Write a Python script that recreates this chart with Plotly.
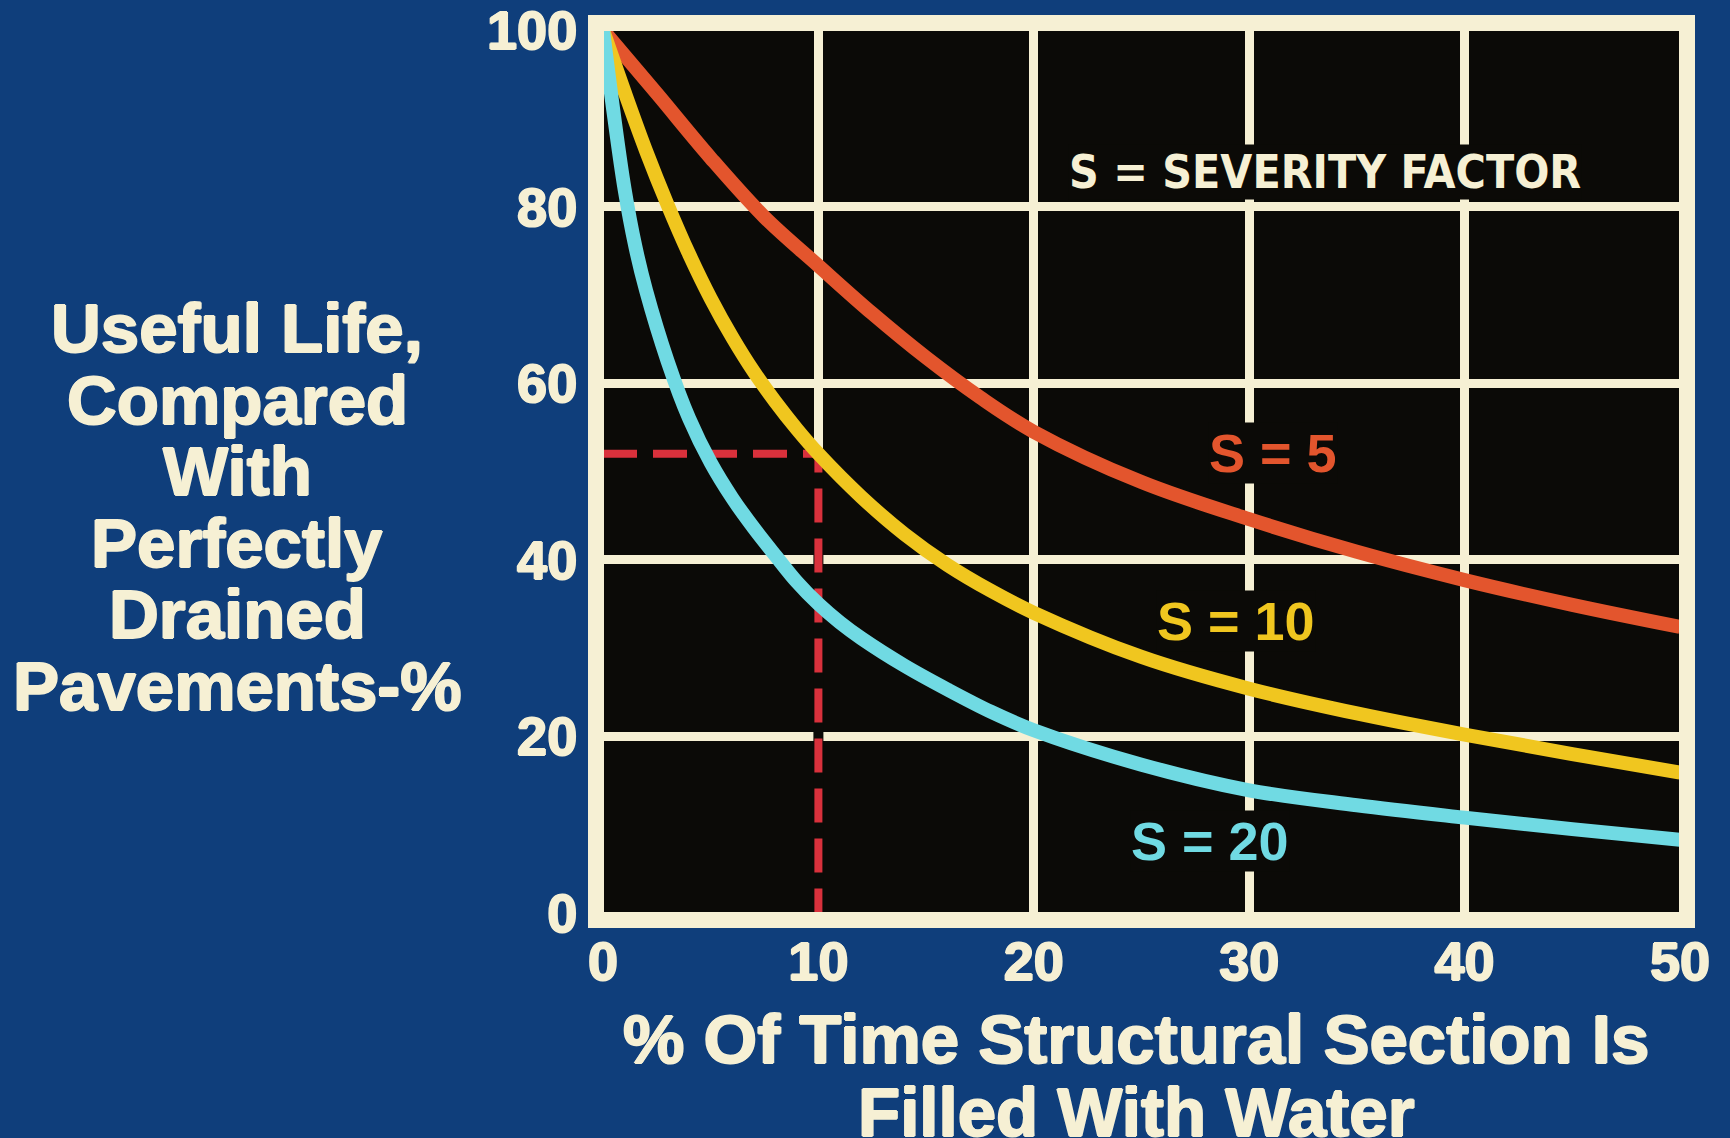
import plotly.graph_objects as go

# ---------------- data ----------------
x_ticks = [0, 10, 20, 30, 40, 50]
y_ticks = [0, 20, 40, 60, 80, 100]

s5_x = [0, 2.5, 5, 7.5, 10, 12.5, 15, 17.5, 20, 25, 30, 35, 40, 45, 50]
s5_y = [100, 92.8, 85.5, 78.8, 73.3, 67.9, 62.9, 58.4, 54.5, 48.8, 44.6, 40.9, 37.7, 34.9, 32.4]

s10_x = [0, 1, 2, 3, 4, 5, 6, 7, 8, 9, 10, 12, 14, 16, 18, 20, 25, 30, 35, 40, 45, 50]
s10_y = [100, 93, 86.3, 80.2, 74.6, 69.6, 65.2, 61.3, 57.9, 54.8, 52, 47.1, 42.9, 39.4, 36.5,
         34, 29, 25.4, 22.6, 20.2, 18, 15.9]

s20_x = [0, 0.5, 1, 1.5, 2, 3, 4, 5, 6, 7, 8, 9, 10, 11, 12, 14, 16, 18, 20, 25, 30, 35, 40, 45, 50]
s20_y = [100, 90.5, 82, 75.5, 70.5, 62.5, 56, 51, 47, 43.6, 40.5, 37.5, 35, 32.9, 31.1, 28, 25.3,
         22.8, 20.7, 16.8, 13.9, 12.2, 10.8, 9.5, 8.3]

guide_x = [0, 10, 10]
guide_y = [52, 52, 0]

series_names = ["S = 5", "S = 10", "S = 20"]
label_pos_x = [31.1, 29.4, 28.2]
label_pos_y = [52.1, 33.1, 8.2]
legend_title = "S = SEVERITY FACTOR"
y_title_lines = ["Useful Life,", "Compared", "With", "Perfectly", "Drained", "Pavements-%"]
x_title_lines = ["% Of Time Structural Section Is", "Filled With Water"]

# ---------------- style ----------------
W, H = 1730, 1138
L, R, T, B = 603, 50, 30, 225
PW, PH = W - L - R, H - T - B
BLUE = "#0f3e7b"
CREAM = "#f6f0d4"
BLACK = "#0b0a07"
RED = "#e3552d"
YELLOW = "#f0c61f"
CYAN = "#70dae3"
DASH_RED = "#d9313c"
FONT = "Liberation Sans, Arial, sans-serif"
colors = [RED, YELLOW, CYAN]


def heavy(c, d=1):
    return (f"{d}px 0 0 {c}, -{d}px 0 0 {c}, 0 {d}px 0 {c}, 0 -{d}px 0 {c}")


fig = go.Figure()

# black backing for the vertical guide (hides the x=10 grid line below it)
fig.add_trace(go.Scatter(x=guide_x[1:], y=guide_y[1:], mode="lines",
                         line=dict(color=BLACK, width=10), hoverinfo="skip", showlegend=False))
fig.add_trace(go.Scatter(x=guide_x, y=guide_y, mode="lines",
                         line=dict(color=DASH_RED, width=8, dash="34px,16px"),
                         hoverinfo="skip", showlegend=False))

for xs, ys, c, n in zip([s5_x, s10_x, s20_x], [s5_y, s10_y, s20_y], colors, series_names):
    fig.add_trace(go.Scatter(x=xs, y=ys, mode="lines", name=n,
                             line=dict(color=c, width=14, shape="spline", smoothing=1.0),
                             showlegend=False))

annotations = []
for n, c, lx, ly in zip(series_names, colors, label_pos_x, label_pos_y):
    annotations.append(dict(x=lx, y=ly, xref="x", yref="y", text=f"<b>{n}</b>",
                            showarrow=False, bgcolor=BLACK, borderpad=0,
                            font=dict(family=FONT, size=54, color=c)))
annotations.append(dict(x=33.5, y=83.9, xref="x", yref="y", text=f"<b>{legend_title}</b>",
                        showarrow=False, bgcolor=BLACK, borderpad=0,
                        font=dict(family="Liberation Sans Narrow, DejaVu Sans Condensed, " + FONT,
                                  size=46, color=CREAM)))

# y-axis title, one annotation per line (tight line spacing)
for i, t in enumerate(y_title_lines):
    ypx = 329 + i * 71.4
    annotations.append(dict(x=(237 - L) / PW, y=(T + PH - ypx) / PH, xref="paper", yref="paper",
                            text=f"<b>{t}</b>", showarrow=False, xanchor="center", yanchor="middle",
                            font=dict(family=FONT, size=69, color=CREAM, shadow=heavy(CREAM))))
# x-axis title
for i, t in enumerate(x_title_lines):
    ypx = 1039 + i * 73
    annotations.append(dict(x=(1136 - L) / PW, y=(T + PH - ypx) / PH, xref="paper", yref="paper",
                            text=f"<b>{t}</b>", showarrow=False, xanchor="center", yanchor="middle",
                            font=dict(family=FONT, size=69, color=CREAM, shadow=heavy(CREAM))))

# outer frame drawn just outside the plotting area
fw = 16
pad = 7
fig.add_shape(type="rect", xref="paper", yref="paper",
              x0=-pad / PW, x1=1 + pad / PW, y0=-pad / PH, y1=1 + pad / PH,
              line=dict(color=CREAM, width=fw), fillcolor="rgba(0,0,0,0)", layer="above")

axis_common = dict(showgrid=True, gridcolor=CREAM, gridwidth=9, zeroline=False,
                   showline=False, ticks="outside", tickcolor="rgba(0,0,0,0)",
                   ticklabeloverflow="allow", automargin=False,
                   tickfont=dict(family=FONT, size=54, color=CREAM, weight="bold",
                                 shadow=heavy(CREAM)))

fig.update_layout(
    width=W, height=H, autosize=False,
    margin=dict(l=L, r=R, t=T, b=B),
    paper_bgcolor=BLUE, plot_bgcolor=BLACK,
    xaxis=dict(range=[0, 50], tickvals=x_ticks, ticktext=[str(v) for v in x_ticks],
               ticklen=1, **axis_common),
    yaxis=dict(range=[0, 100], tickvals=y_ticks, ticktext=[str(v) for v in y_ticks],
               ticklen=14, **axis_common),
    annotations=annotations,
    showlegend=False,
)

fig.write_html("out.html", config={"displayModeBar": False},
               post_script="document.body.style.margin='0';document.body.style.overflow='hidden';")
